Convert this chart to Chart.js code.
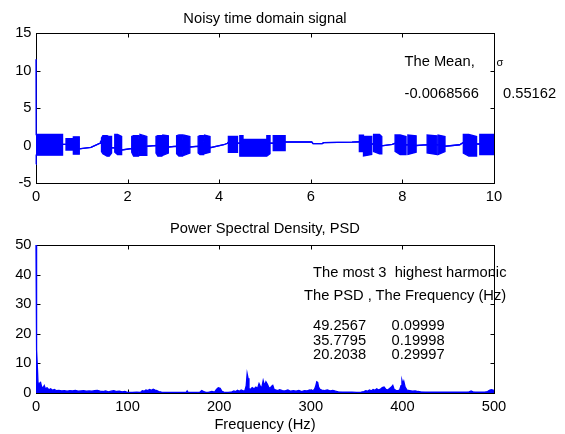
<!DOCTYPE html>
<html><head><meta charset="utf-8">
<script src="https://cdn.jsdelivr.net/npm/chart.js@4/dist/chart.umd.min.js"></script>
<style>
html,body{margin:0;padding:0;background:#fff;overflow:hidden;width:565px;height:434px;position:relative}
canvas{position:absolute;left:0;top:0}
.t{position:absolute;font-family:"Liberation Sans",Arial,sans-serif;font-size:14.7px;line-height:14.7px;white-space:pre;color:#000}
.s{font-size:11px;line-height:11px}
</style></head><body>
<canvas id="c1" width="565" height="434"></canvas>
<canvas id="c2" width="565" height="434"></canvas>
<div class="t" style="left:404.5px;top:54.3px">The Mean,</div>
<div class="t s" style="left:496.5px;top:57px">σ</div>
<div class="t" style="left:404.5px;top:85.6px">-0.0068566</div>
<div class="t" style="left:503px;top:85.6px">0.55162</div>
<div class="t" style="left:313px;top:264.8px">The most 3  highest harmonic</div>
<div class="t" style="left:304px;top:288.2px">The PSD , The Frequency (Hz)</div>
<div class="t" style="left:313px;top:318.3px">49.2567</div>
<div class="t" style="left:391.5px;top:318.3px">0.09999</div>
<div class="t" style="left:313px;top:332.8px">35.7795</div>
<div class="t" style="left:391.5px;top:332.8px">0.19998</div>
<div class="t" style="left:313px;top:347.2px">20.2038</div>
<div class="t" style="left:391.5px;top:347.2px">0.29997</div>
<script>
// ---- Top plot: noisy time-domain signal (envelope of the oscillating bursts) ----
const sigT = [
0,0.004,0.58,0.58,0.655,0.655,0.815,0.815,0.945,0.945,
1.2,1.40,1.41,1.43,1.43,1.46,1.55,1.60,1.65,1.65,
1.72,1.72,1.78,1.87,1.87,2.09,2.09,2.13,2.24,2.25,
2.27,2.42,2.42,2.62,2.62,2.66,2.75,2.755,2.77,2.89,
2.89,3.07,3.07,3.12,3.2,3.21,3.23,3.36,3.36,3.54,
3.54,3.58,3.65,3.66,3.68,3.80,3.80,4.10,4.18,4.20,
4.20,4.40,4.40,4.45,4.45,4.52,4.52,5.04,5.04,5.11,
5.11,5.18,5.18,5.44,5.44,6.02,6.05,6.25,6.28,6.9,
7.06,7.06,7.15,7.15,7.33,7.33,7.37,7.37,7.50,7.55,
7.55,7.78,7.84,7.84,7.95,8.08,8.08,8.12,8.12,8.30,
8.30,8.54,8.54,8.75,8.75,8.78,8.78,8.93,8.93,9.25,
9.33,9.33,9.45,9.62,9.62,9.69,9.69,10.0];
const sigUpper = [
11.5,1.47,1.47,0.15,0.15,0.93,0.93,1.16,1.16,-0.45,
-0.25,0.3,0.55,0.55,1.0,1.33,1.33,1.2,1.2,-0.3,
-0.3,1.47,1.47,1.2,-0.6,-0.4,1.2,1.33,1.33,0.7,
1.47,1.2,-0.1,0.0,1.2,1.33,1.33,0.6,1.4,1.3,
-0.2,-0.1,1.3,1.4,1.4,0.6,1.4,1.2,-0.2,-0.1,
1.2,1.33,1.33,0.5,1.4,1.2,-0.3,0.1,0.3,0.45,
1.2,1.2,0.3,0.3,1.33,1.33,0.8,0.8,1.33,1.33,
0.3,0.3,1.33,1.33,0.47,0.47,0.25,0.25,0.37,0.45,
0.5,1.37,1.37,1.2,1.2,0.2,0.2,1.47,1.47,1.2,
-0.05,0.15,0.3,1.4,1.4,1.2,0.1,0.1,1.4,1.3,
0.0,0.1,1.4,1.3,0.1,0.1,1.4,1.2,-0.1,0.1,
0.4,1.47,1.47,1.2,0.2,0.2,1.47,1.47];
const sigLower = [
-2.5,-1.29,-1.29,0.15,0.15,-0.6,-0.6,-1.16,-1.16,-0.45,
-0.25,0.3,0.55,0.55,-0.8,-1.1,-1.42,-1.42,-1.0,-0.3,
-0.3,-0.9,-1.2,-1.2,-0.6,-0.4,-0.9,-1.42,-1.42,-0.6,
-1.3,-1.3,-0.1,0.0,-1.0,-1.42,-1.42,-0.5,-1.3,-1.0,
-0.2,-0.1,-1.1,-1.4,-1.4,-0.5,-1.3,-1.0,-0.2,-0.1,
-1.0,-1.2,-1.2,-0.5,-1.1,-0.9,-0.3,0.1,0.3,0.45,
-0.9,-0.9,0.3,0.3,-1.42,-1.42,-1.42,-1.42,-1.42,-1.1,
0.3,0.3,-0.67,-0.67,0.47,0.47,0.25,0.25,0.37,0.45,
0.5,-0.8,-0.8,-1.4,-1.2,0.2,0.2,-0.8,-1.1,-1.1,
-0.05,0.15,0.3,-0.8,-1.2,-1.2,0.1,0.1,-1.2,-0.9,
0.0,0.1,-1.0,-1.2,0.1,0.1,-1.2,-0.8,-0.1,0.1,
0.4,-1.0,-1.4,-1.4,0.2,0.2,-1.2,-1.2];
const timeTicks = [0,2,4,6,8,10];
const sigTicks = [-5,0,5,10,15];

// ---- Bottom plot: power spectral density ----
const psdFreq = [
0,0.3,0.6,1,1.6,2.2,3.5,5,6,7.5,
9,10.5,12,14,16,18,20,22,25,28,
31,34,37,40,43,46,49,52,55,58,
61,64,67,70,73,76,79,82,85,88,
91,94,97,99,100,105,110,114,116,118,
120,122,124,126,128,130,132,134,137,140,
145,150,155,160,164,165,166,170,175,179,
181,183,185,188,192,195,197,199,201,203,
205,207,210,214,216,218,220,222,224,226,
228,229.5,230.5,231.5,232.5,234,236,238,240,242,
243.5,245,246.5,248,249.5,251,252.5,254,255.5,257,
258.5,260,262,264,266,269,272,275,278,281,
284,287,290,293,296,299,302,304,305.5,306.5,
307.5,308.5,310,312,315,318,321,324,327,330,
335,340,345,350,355,358,360,362,364,366,
368,370,372,374,376,378,380,382,384,386,
388,389.5,391,393,395,397,398.5,399.5,400.5,401.5,
403,405,408,411,414,417,420,425,430,440,
450,460,470,473,475,477,480,490,493,495,
497,499,500];
const psdVal = [
50,50,35,14.5,8,3.4,3.2,3.6,2.2,1.6,
2.5,1.3,1.8,1.1,1.4,0.9,1.2,0.8,0.9,0.7,
0.8,0.6,0.8,0.7,0.9,0.6,0.7,0.8,0.6,0.7,
0.6,0.8,0.9,0.6,0.5,0.7,0.4,0.6,0.8,0.5,
0.6,0.4,0.5,0.3,0.2,0.2,0.3,0.2,0.8,0.6,
1.0,0.8,1.2,0.9,1.3,1.0,0.8,0.5,0.3,0.2,
0.2,0.2,0.2,0.2,0.2,0.7,0.2,0.2,0.2,0.3,
0.8,0.5,0.3,0.2,0.5,0.3,1.2,1.8,1.6,0.6,
0.3,0.2,0.2,0.4,0.7,0.5,0.9,0.6,1.0,0.7,
0.8,2.5,6.5,5.0,1.5,1.2,1.8,1.4,2.0,1.6,
3.2,2.2,1.8,4.2,2.5,3.8,3.0,2.0,1.5,2.2,
2.6,1.2,1.0,0.8,1.1,0.8,0.7,1.0,0.6,0.8,
0.6,0.9,0.5,0.8,0.7,1.0,0.8,1.2,2.5,3.8,
3.6,2.0,1.2,1.0,0.8,1.0,0.7,0.9,0.6,0.4,
0.3,0.3,0.3,0.2,0.3,0.5,0.8,0.6,1.0,0.7,
1.2,0.9,1.4,1.0,1.3,1.8,2.0,1.2,1.0,1.5,
2.0,2.6,1.2,0.9,0.8,1.0,2.5,4.3,3.2,4.0,
2.0,1.0,0.8,0.6,0.7,0.5,0.4,0.3,0.3,0.3,
0.3,0.3,0.3,0.4,0.7,0.4,0.3,0.3,0.5,0.9,
1.1,1.0,0.8];
const freqTicks = [0,100,200,300,400,500];
const psdTicks = [0,10,20,30,40,50];

const titles = ['Noisy time domain signal','Power Spectral Density, PSD'];
const xLabel = 'Frequency (Hz)';

const BLUE = '#0000ff';
const FONT = '"Liberation Sans", Arial, sans-serif';
Chart.defaults.font.family = FONT;
Chart.defaults.font.size = 14.7;
Chart.defaults.color = '#000';

const framePlugin = {
  id: 'frame',
  afterLayout(chart) {
    // centre the title over the plot box, as in the original figure
    if (chart.titleBlock) {
      chart.titleBlock.left = chart.chartArea.left;
      chart.titleBlock.right = chart.chartArea.right;
    }
  },
  beforeDatasetsDraw(chart) {
    const {ctx, chartArea: a, scales: {x, y}} = chart;
    ctx.save();
    ctx.strokeStyle = '#000'; ctx.lineWidth = 1;
    const l = Math.round(a.left) + 0.5, r = Math.round(a.right) + 0.5;
    const t = Math.round(a.top) + 0.5, b = Math.round(a.bottom) + 0.5;
    ctx.strokeRect(l, t, r - l, b - t);
    const L = 4;
    ctx.beginPath();
    x.ticks.forEach(tk => { const p = Math.round(x.getPixelForValue(tk.value)) + 0.5;
      ctx.moveTo(p, b); ctx.lineTo(p, b - L); ctx.moveTo(p, t); ctx.lineTo(p, t + L); });
    y.ticks.forEach(tk => { const p = Math.round(y.getPixelForValue(tk.value)) + 0.5;
      ctx.moveTo(l, p); ctx.lineTo(l + L, p); ctx.moveTo(r, p); ctx.lineTo(r - L, p); });
    ctx.stroke();
    ctx.restore();
  }
};

function makeOptions(cfg) {
  return {
    responsive: false, animation: false, events: [],
    layout: {padding: cfg.pad},
    plugins: {
      legend: {display: false}, tooltip: {enabled: false},
      title: {display: true, text: cfg.title, font: {size: 14.7, weight: 'normal'},
              color: '#000', padding: {top: 0, bottom: cfg.titlePadB}}
    },
    scales: {
      x: {
        type: 'linear', min: cfg.xTicks[0], max: cfg.xTicks[cfg.xTicks.length - 1],
        grid: {display: false, drawTicks: false}, border: {display: false},
        afterBuildTicks: s => { s.ticks = cfg.xTicks.map(v => ({value: v})); },
        ticks: {padding: 5, maxRotation: 0, autoSkip: false, color: '#000'},
        title: cfg.xTitle ? {display: true, text: cfg.xTitle, color: '#000', font: {size: 14.7}, padding: {top: 0, bottom: 0.2}} : {display: false},
        afterFit: s => { s.height = cfg.xH; s.paddingLeft = 0; s.paddingRight = 0; }
      },
      y: {
        type: 'linear', min: cfg.yTicks[0], max: cfg.yTicks[cfg.yTicks.length - 1],
        grid: {display: false, drawTicks: false}, border: {display: false},
        afterBuildTicks: s => { s.ticks = cfg.yTicks.map(v => ({value: v})); },
        ticks: {padding: 4.5, autoSkip: false, color: '#000'},
        afterFit: s => { s.width = 36; s.paddingTop = 0; s.paddingBottom = 0; }
      }
    }
  };
}

const toPts = (xs, ys) => xs.map((v, i) => ({x: v, y: ys[i]}));

new Chart(document.getElementById('c1'), {
  type: 'line',
  data: {datasets: [
    {data: toPts(sigT, sigUpper), borderColor: BLUE, backgroundColor: BLUE, borderWidth: 1.3,
     pointRadius: 0, tension: 0, fill: '+1', clip: 3},
    {data: toPts(sigT, sigLower), borderColor: BLUE, backgroundColor: BLUE, borderWidth: 1.3,
     pointRadius: 0, tension: 0, fill: false, clip: 3}
  ]},
  options: makeOptions({pad: {top: 9.9, left: 0, right: 71, bottom: 229}, title: titles[0], titlePadB: 5.46,
    xTicks: timeTicks, yTicks: sigTicks, xH: 22}),
  plugins: [framePlugin]
});

new Chart(document.getElementById('c2'), {
  type: 'line',
  data: {datasets: [
    {data: toPts(psdFreq, psdVal), borderColor: BLUE, backgroundColor: BLUE, borderWidth: 1.3,
     pointRadius: 0, tension: 0, fill: 'origin', clip: 3}
  ]},
  options: makeOptions({pad: {top: 220.2, left: 0, right: 71, bottom: 0}, title: titles[1], titlePadB: 7.16,
    xTicks: freqTicks, yTicks: psdTicks, xH: 41, xTitle: xLabel}),
  plugins: [framePlugin]
});
</script>
</body></html>
